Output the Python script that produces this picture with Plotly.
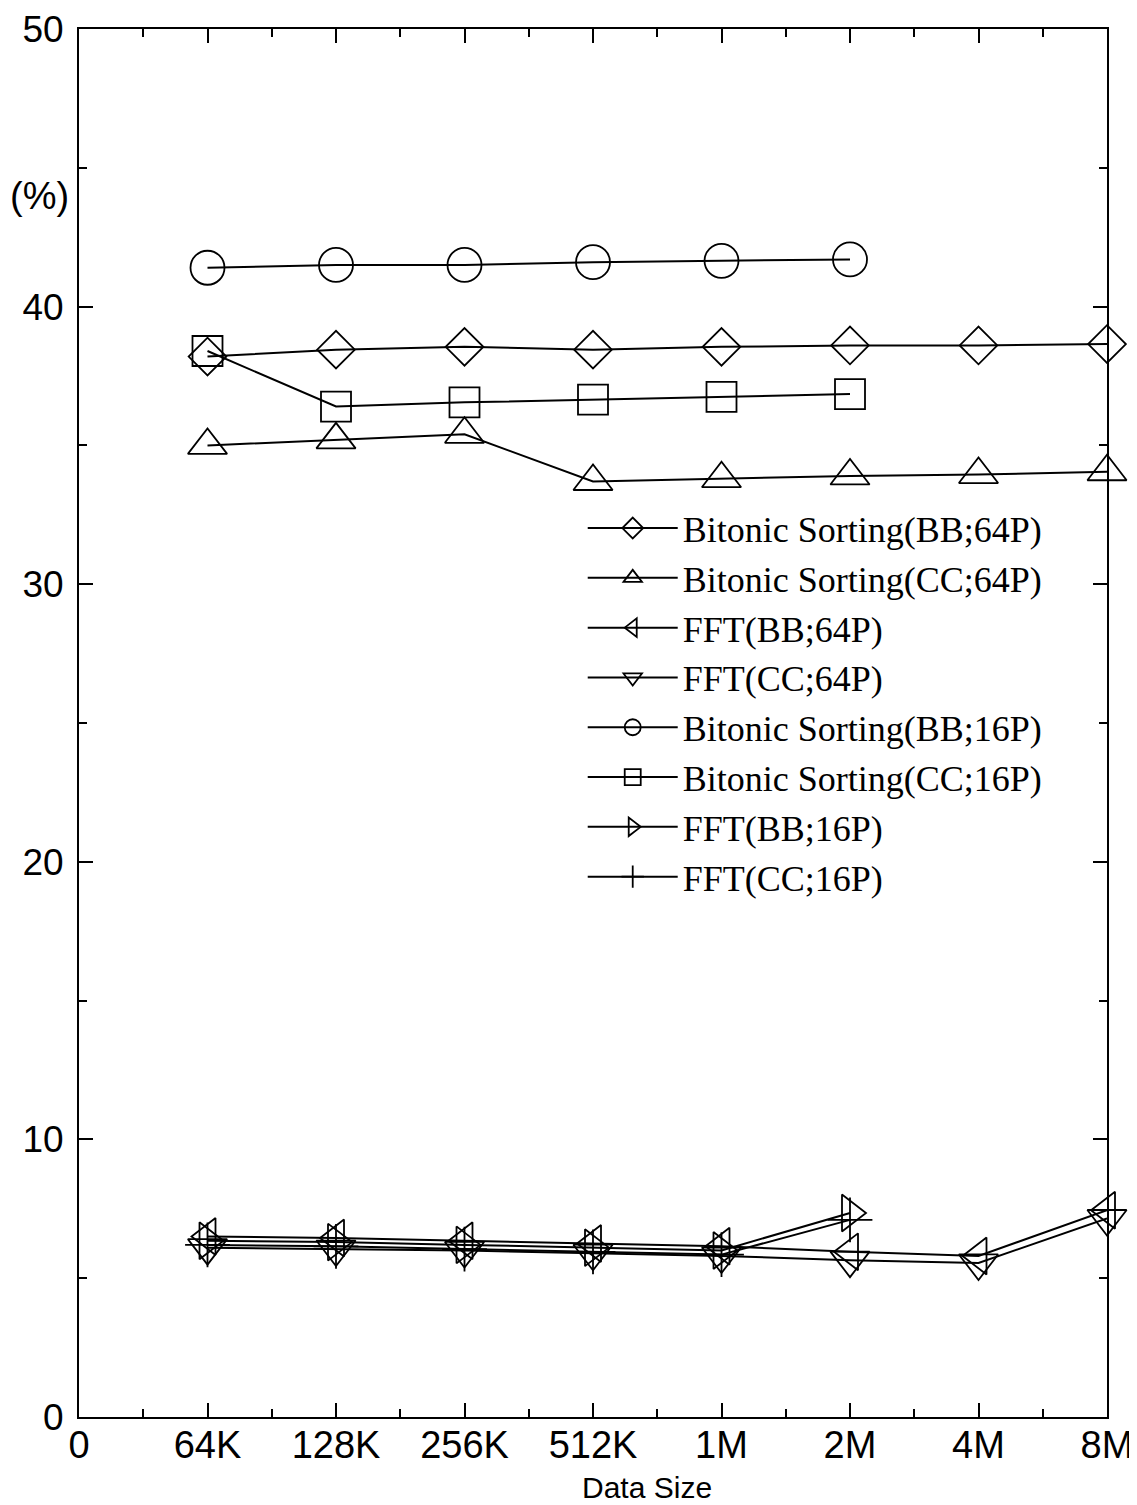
import plotly.graph_objects as go

sizes = ["64K", "128K", "256K", "512K", "1M", "2M", "4M", "8M"]
x_tick_labels = ["0"] + sizes

names = [
    "Bitonic Sorting(BB;64P)",
    "Bitonic Sorting(CC;64P)",
    "FFT(BB;64P)",
    "FFT(CC;64P)",
    "Bitonic Sorting(BB;16P)",
    "Bitonic Sorting(CC;16P)",
    "FFT(BB;16P)",
    "FFT(CC;16P)",
]

bitonic_bb_64 = [38.2, 38.45, 38.55, 38.45, 38.55, 38.6, 38.6, 38.65]
bitonic_cc_64 = [35.0, 35.2, 35.4, 33.7, 33.8, 33.9, 33.95, 34.05]
fft_bb_64 = [6.5, 6.45, 6.35, 6.25, 6.15, 5.95, 5.8, 7.45]
fft_cc_64 = [6.1, 6.05, 6.0, 5.9, 5.8, 5.65, 5.55, 7.15]
bitonic_bb_16 = [41.4, 41.5, 41.5, 41.6, 41.65, 41.7]
bitonic_cc_16 = [38.4, 36.4, 36.55, 36.65, 36.75, 36.85]
fft_bb_16 = [6.35, 6.3, 6.2, 6.1, 6.0, 7.35]
fft_cc_16 = [6.2, 6.15, 6.05, 5.95, 5.85, 7.1]

series = [bitonic_bb_64, bitonic_cc_64, fft_bb_64, fft_cc_64,
          bitonic_bb_16, bitonic_cc_16, fft_bb_16, fft_cc_16]
symbols = ["diamond-open", "triangle-up-open", "triangle-left-open",
           "triangle-down-open", "circle-open", "square-open",
           "triangle-right-open", "cross-thin-open"]
marker_sizes = [29, 34, 32, 34, 34, 30, 32, 32]

fig = go.Figure()
for nm, ys, sym, ms in zip(names, series, symbols, marker_sizes):
    xs = list(range(1, len(ys) + 1))
    fig.add_trace(go.Scatter(
        x=xs, y=ys, name=nm, mode="lines+markers", cliponaxis=False,
        line=dict(color="black", width=2),
        marker=dict(symbol=sym, size=ms, color="black",
                    line=dict(color="black", width=1.8)),
    ))

fig.add_annotation(text="(%)", xref="paper", yref="y", x=-0.008, y=44.0,
                   xanchor="right", yanchor="middle", showarrow=False,
                   font=dict(family="Liberation Sans, Arial", size=38, color="black"))
fig.add_annotation(text="Data Size", xref="paper", yref="paper", x=0.553, y=-0.051,
                   xanchor="center", yanchor="middle", showarrow=False,
                   font=dict(family="Liberation Sans, Arial", size=30, color="black"))

fig.update_layout(
    width=1129, height=1497,
    margin=dict(l=71, r=30, t=21, b=88, autoexpand=False),
    plot_bgcolor="white", paper_bgcolor="white",
    showlegend=True,
    legend=dict(x=0.49, y=0.662, xanchor="left", yanchor="top",
                bgcolor="rgba(0,0,0,0)", itemwidth=90,
                font=dict(family="Liberation Serif, Times New Roman", size=36, color="black")),
    xaxis=dict(
        automargin=False,
        range=[0, 8], tickmode="array", tickvals=list(range(0, 9)),
        ticktext=x_tick_labels, ticks="inside", ticklen=14, tickwidth=1.5,
        tickcolor="black", showgrid=False, zeroline=False, ticklabelstandoff=-7,
        ticklabeloverflow="allow",
        showline=True, linecolor="black", linewidth=2, mirror="ticks",
        tickfont=dict(family="Liberation Sans, Arial", size=38, color="black"),
        minor=dict(dtick=0.5, tick0=0, ticks="inside", ticklen=8, tickcolor="black", tickwidth=1.5),
    ),
    yaxis=dict(
        automargin=False,
        range=[0, 50], tickmode="linear", tick0=0, dtick=10,
        ticks="inside", ticklen=14, tickwidth=1.5, tickcolor="black",
        showgrid=False, zeroline=False, ticklabelstandoff=6,
        ticklabeloverflow="allow",
        showline=True, linecolor="black", linewidth=2, mirror="ticks",
        tickfont=dict(family="Liberation Sans, Arial", size=37, color="black"),
        minor=dict(dtick=5, tick0=0, ticks="inside", ticklen=8, tickcolor="black", tickwidth=1.5),
    ),
)

fig.write_html("out.html")
